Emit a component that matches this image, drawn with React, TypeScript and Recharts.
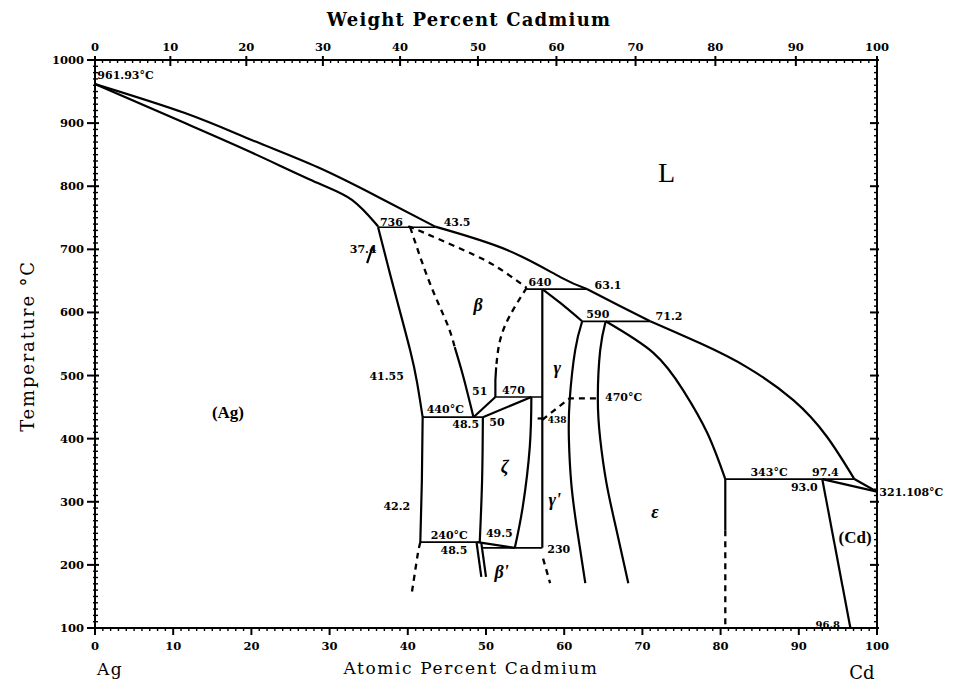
import React from "react"
import { LineChart, Line, XAxis, YAxis, ReferenceDot } from "recharts"

const AG_MASS = 107.868
const CD_MASS = 112.41

// atomic % Cd for a weight % Cd, used to place the top axis ticks
const wtToAt = (w: number) => {
  const a = w / CD_MASS
  const b = (100 - w) / AG_MASS
  return (100 * a) / (a + b)
}

// every curve: [atomic % Cd, temperature °C]
const liquidusAg = [[0, 962], [11.5, 916], [20.1, 873], [28.5, 830], [36.2, 783], [43.5, 736]]
const liquidusBeta = [[43.5, 736], [52.7, 699], [59.5, 656], [62.9, 637]]
const liquidusGamma = [[62.9, 637], [67.0, 611], [71.0, 586]]
const liquidusEps = [[71.0, 586], [77.4, 551], [83.4, 513], [89.3, 461], [93.6, 403], [97.1, 336]]
const liquidusCd = [[97.1, 336], [100, 316]]
const solidusAg = [[0, 962], [11.5, 900], [20.1, 853], [28.5, 805], [32.9, 778], [35.8, 742], [36.2, 735]]
const agSolvusHigh = [[36.2, 735], [37.5, 672], [38.6, 620], [40.3, 540], [41.2, 488], [41.9, 434]]
const agSolvusLow = [[41.9, 434], [41.8, 334], [41.6, 236]]
const agSolvusDashed = [[41.6, 236], [41.3, 219], [40.9, 187], [40.5, 155]]
const betaLeftDashed = [[40.3, 735], [42.8, 647], [45.0, 583], [46.0, 545]]
const betaLeftSolid = [[46.0, 545], [47.1, 498], [48.4, 434]]
const betaTopDashed = [[40.3, 735], [41.2, 731], [47.1, 699], [51.4, 672], [55.2, 639]]
const betaRightDashed = [[55.2, 639], [53.1, 596], [51.8, 556], [51.3, 513]]
const betaRightSolid = [[51.3, 513], [51.2, 493], [51.2, 466]]
const gammaLine = [[57.2, 637], [57.2, 227]]
const gammaTop = [[57.2, 637], [59.5, 615], [62.3, 586]]
const epsLeftA = [[62.3, 586], [61.4, 540], [60.7, 461], [60.6, 400], [60.9, 330], [61.6, 260], [62.7, 171]]
const epsLeftB = [[65.3, 586], [64.6, 540], [64.3, 464], [64.6, 400], [65.4, 330], [66.6, 260], [68.2, 171]]
const epsRight = [[65.3, 586], [71.4, 536], [75.2, 477], [78.3, 409], [80.6, 336]]
const epsVertical = [[80.6, 336], [80.6, 255]]
const epsDashed = [[80.6, 255], [80.6, 100]]
const cdSolidus = [[93.0, 336], [100, 316]]
const cdSolvus = [[93.0, 336], [96.6, 100]]
const betaToZeta = [[48.4, 434], [51.2, 466]]
const zetaTop = [[49.6, 434], [55.8, 466]]
const zetaRight = [[55.8, 466], [55.6, 387], [54.7, 292], [53.7, 228]]
const zetaLeft = [[49.6, 434], [49.5, 334], [49.2, 236]]
const zetaBottom = [[48.9, 236], [53.7, 227]]
const betaPrimeA = [[48.8, 235], [49.4, 181]]
const betaPrimeB = [[49.4, 235], [50.0, 181]]
const gammaDashed = [[57.2, 430], [60.7, 464], [64.3, 464]]
const gammaPrimeDashed = [[57.3, 210], [58.2, 171]]
const tick438 = [[56.6, 432], [57.2, 432]]
const leader374 = [[35.5, 704], [34.8, 678]]

const iso736 = [[36.2, 735], [43.5, 735]]
const iso640 = [[55.2, 637], [62.9, 637]]
const iso590 = [[62.3, 586], [71.0, 586]]
const iso470 = [[51.2, 466], [57.2, 466]]
const iso440 = [[41.9, 434], [49.6, 434]]
const iso343 = [[80.6, 336], [97.1, 336]]
const iso240 = [[41.6, 236], [49.2, 236]]
const iso230 = [[49.6, 227], [57.2, 227]]

const smoothCurves = [liquidusAg, liquidusBeta, liquidusGamma, liquidusEps, solidusAg, agSolvusHigh, agSolvusLow, betaLeftSolid, gammaTop, epsLeftA, epsLeftB, epsRight, zetaRight, zetaLeft]
const straightLines = [liquidusCd, betaRightSolid, gammaLine, epsVertical, cdSolidus, cdSolvus, betaToZeta, zetaTop, zetaBottom, betaPrimeA, betaPrimeB, tick438, leader374]
const isotherms = [iso736, iso640, iso590, iso470, iso440, iso343, iso240, iso230]
const dashedCurves = [agSolvusDashed, betaLeftDashed, betaTopDashed, betaRightDashed]
const dashedStraight = [gammaDashed, gammaPrimeDashed, epsDashed]

// text in the field: label, atomic %, temperature, size, kind
const notes: [string, number, number, number, string][] = [
  ["961.93°C", 0.3, 976, 11, "num-start"],
  ["L", 73.1, 821, 28, "big"],
  ["736", 37.9, 743, 11, "num"],
  ["43.5", 46.3, 742, 11, "num"],
  ["37.4", 34.3, 699, 11, "num"],
  ["β", 49.0, 612, 18, "greek"],
  ["640", 56.9, 647, 11, "num"],
  ["63.1", 65.6, 643, 11, "num"],
  ["590", 64.3, 596, 11, "num"],
  ["71.2", 73.4, 593, 11, "num"],
  ["γ", 59.1, 512, 18, "greek"],
  ["470°C", 67.6, 466, 11, "num"],
  ["41.55", 37.3, 498, 11, "num"],
  ["51", 49.2, 474, 11, "num"],
  ["470", 53.5, 477, 11, "num"],
  ["440°C", 44.8, 447, 11, "num"],
  ["48.5", 47.4, 422, 11, "num"],
  ["50", 51.4, 426, 11, "num"],
  ["438", 59.1, 429, 9, "num"],
  ["(Ag)", 17.0, 441, 17, "phase"],
  ["ζ", 52.4, 355, 18, "greek"],
  ["γ'", 58.8, 303, 18, "greek"],
  ["42.2", 38.6, 293, 11, "num"],
  ["ε", 71.6, 284, 18, "greek"],
  ["240°C", 45.3, 247, 11, "num"],
  ["49.5", 51.7, 250, 11, "num"],
  ["48.5", 45.9, 223, 11, "num"],
  ["230", 59.3, 225, 11, "num"],
  ["β'", 52.0, 189, 18, "greek"],
  ["343°C", 86.2, 347, 11, "num"],
  ["97.4", 93.4, 347, 11, "num"],
  ["93.0", 90.7, 323, 11, "num"],
  ["321.108°C", 100.3, 314, 11, "num-start"],
  ["(Cd)", 97.2, 244, 17, "phase"],
  ["96.8", 93.7, 105, 10, "num"],
]

const atomicTicks = Array.from({ length: 101 }, (_, i) => i)
const tempTicks = Array.from({ length: 91 }, (_, i) => 100 + i * 10)
const weightLabels = [0, 10, 20, 30, 40, 50, 60, 70, 80, 90, 100]
const weightTicks = Array.from({ length: 101 }, (_, i) => wtToAt(i))
// corners of the frame, so the top and right axes have a series of their own
const frame = [{ x: 0, t: 100 }, { x: 100, t: 1000 }]

const SERIF = "DejaVu Serif"
const numFont = { fontFamily: SERIF, fontWeight: 700, fontSize: 11.5, fill: "#000" }

const toPts = (a: number[][]) => a.map(([x, t]) => ({ x, t }))

function BottomTick(p: any) {
  const { x, y, payload } = p
  const v = Math.round(payload.value)
  const major = v % 10 === 0
  return (
    <g>
      <line x1={x} x2={x} y1={y} y2={y + (major ? 7 : 3)} stroke="#000" strokeWidth={major ? 2 : 1.4} />
      {major && <text x={x} y={y + 22} textAnchor="middle" {...numFont}>{v}</text>}
    </g>
  )
}

function TopTick(p: any) {
  const { x, y, payload } = p
  const idx = weightTicks.findIndex((w) => Math.abs(w - payload.value) < 1e-6)
  const major = idx % 10 === 0
  return (
    <g>
      <line x1={x} x2={x} y1={major ? y - 4 : y} y2={y + (major ? 6 : 3)} stroke="#000" strokeWidth={major ? 2 : 1.4} />
      {major && weightLabels.includes(idx) && <text x={x} y={y - 9} textAnchor="middle" {...numFont}>{idx}</text>}
    </g>
  )
}

function LeftTick(p: any) {
  const { x, y, payload } = p
  const v = Math.round(payload.value)
  const major = v % 100 === 0
  return (
    <g>
      <line x1={major ? x - 8 : x - 2} x2={x + (major ? 4 : 3)} y1={y} y2={y} stroke="#000" strokeWidth={major ? 2 : 1.4} />
      {major && <text x={x - 11} y={y + 4} textAnchor="end" {...numFont}>{v}</text>}
    </g>
  )
}

function RightTick(p: any) {
  const { x, y, payload } = p
  const v = Math.round(payload.value)
  const major = v % 100 === 0
  return <line x1={x - (major ? 7 : 3)} x2={x + (major ? 2 : 0)} y1={y} y2={y} stroke="#000" strokeWidth={major ? 2 : 1.4} />
}

function Note(p: any, s: string, size: number, kind: string) {
  const { cx, cy } = p
  let family = SERIF
  let weight: number | string = 700
  let style = "normal"
  if (kind === "big") { family = "Liberation Serif"; weight = 400 }
  if (kind === "phase") { family = "Liberation Serif"; weight = 700 }
  if (kind === "greek") { family = "Liberation Serif"; style = "italic" }
  return (
    <text x={cx} y={cy} textAnchor={kind === "num-start" ? "start" : "middle"} dominantBaseline="central"
      fontFamily={family} fontWeight={weight} fontStyle={style} fontSize={size} fill="#000">{s}</text>
  )
}

export default function App() {
  return (
    <div style={{ position: "absolute", left: 0, top: 0, width: 963, height: 682, background: "#fff" }}>
      <LineChart width={963} height={682} margin={{ top: 0, right: 0, bottom: 0, left: 0 }}>
        <XAxis xAxisId="b" dataKey="x" type="number" domain={[0, 100]} allowDataOverflow ticks={atomicTicks} interval={0}
          height={54} tickSize={0} tickMargin={0} tickLine={false} tick={BottomTick}
          axisLine={{ stroke: "#000", strokeWidth: 2 }}
          label={(p: any) => {
            const vb = p.viewBox
            return (
              <g>
                <text x={vb.x + 376} y={vb.y + 46} textAnchor="middle" fontFamily={SERIF} fontSize={17} letterSpacing={1.6} fill="#000">Atomic Percent Cadmium</text>
                <text x={vb.x + 15} y={vb.y + 47} textAnchor="middle" fontFamily={SERIF} fontSize={17} letterSpacing={1.5} fill="#000">Ag</text>
                <text x={vb.x + 767} y={vb.y + 51} textAnchor="middle" fontFamily={SERIF} fontSize={18} fill="#000">Cd</text>
              </g>
            )
          }} />
        <XAxis xAxisId="t" dataKey="x" orientation="top" type="number" domain={[0, 100]} allowDataOverflow ticks={weightTicks} interval={0}
          height={60} tickSize={0} tickMargin={0} tickLine={false} tick={TopTick}
          axisLine={{ stroke: "#000", strokeWidth: 2 }}
          label={(p: any) => {
            const vb = p.viewBox
            return <text x={vb.x + 374} y={vb.y + 26} textAnchor="middle" fontFamily={SERIF} fontWeight={700} fontSize={18} letterSpacing={1.2} fill="#000">Weight Percent Cadmium</text>
          }} />
        <YAxis yAxisId="l" type="number" domain={[100, 1000]} allowDataOverflow ticks={tempTicks} interval={0}
          width={95} tickSize={0} tickMargin={0} tickLine={false} tick={LeftTick}
          axisLine={{ stroke: "#000", strokeWidth: 2 }}
          label={(p: any) => {
            const vb = p.viewBox
            const cx = vb.x + 34
            const cy = vb.y + vb.height / 2 + 2
            return <text x={cx} y={cy} transform={`rotate(-90 ${cx} ${cy})`} textAnchor="middle" fontFamily={SERIF} fontSize={18} letterSpacing={1.8} fill="#000">Temperature °C</text>
          }} />
        <YAxis yAxisId="r" orientation="right" type="number" domain={[100, 1000]} allowDataOverflow ticks={tempTicks} interval={0}
          width={86} tickSize={0} tickMargin={0} tickLine={false} tick={RightTick}
          axisLine={{ stroke: "#000", strokeWidth: 2 }} />

        <Line xAxisId="t" yAxisId="r" data={frame} dataKey="t" stroke="none" strokeWidth={0}
          dot={false} activeDot={false} isAnimationActive={false} />

        {smoothCurves.map((c, i) => (
          <Line key={`c${i}`} xAxisId="b" yAxisId="l" data={toPts(c)} dataKey="t" type="natural" stroke="#000" strokeWidth={2.2}
            dot={false} activeDot={false} isAnimationActive={false} />
        ))}
        {straightLines.map((c, i) => (
          <Line key={`s${i}`} xAxisId="b" yAxisId="l" data={toPts(c)} dataKey="t" type="linear" stroke="#000" strokeWidth={2.2}
            dot={false} activeDot={false} isAnimationActive={false} />
        ))}
        {isotherms.map((c, i) => (
          <Line key={`h${i}`} xAxisId="b" yAxisId="l" data={toPts(c)} dataKey="t" type="linear" stroke="#000" strokeWidth={1.7}
            dot={false} activeDot={false} isAnimationActive={false} />
        ))}
        {dashedCurves.map((c, i) => (
          <Line key={`d${i}`} xAxisId="b" yAxisId="l" data={toPts(c)} dataKey="t" type="natural" stroke="#000" strokeWidth={2.3}
            strokeDasharray="6 5" dot={false} activeDot={false} isAnimationActive={false} />
        ))}
        {dashedStraight.map((c, i) => (
          <Line key={`e${i}`} xAxisId="b" yAxisId="l" data={toPts(c)} dataKey="t" type="linear" stroke="#000" strokeWidth={2.3}
            strokeDasharray="6 5" dot={false} activeDot={false} isAnimationActive={false} />
        ))}

        {notes.map(([s, x, t, size, kind], i) => (
          <ReferenceDot key={`n${i}`} xAxisId="b" yAxisId="l" x={x} y={t} r={0} ifOverflow="visible"
            shape={(p: any) => Note(p, s, size, kind)} />
        ))}
      </LineChart>
    </div>
  )
}
